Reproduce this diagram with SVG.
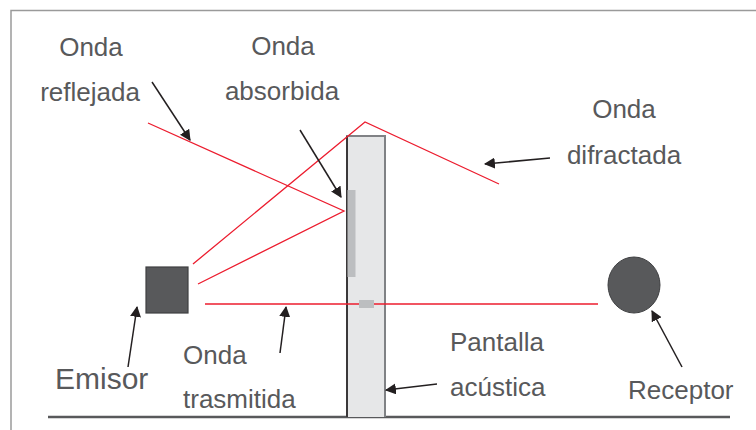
<svg xmlns="http://www.w3.org/2000/svg" width="756" height="430" viewBox="0 0 756 430">
<defs>
<style>
.t{font-family:"Liberation Sans",Arial,sans-serif;font-size:26px;fill:#58595b}
.ray{stroke:#ec1c2e;stroke-width:1.3;fill:none}
.arr{stroke:#231f20;stroke-width:1.5;fill:none;marker-end:url(#ah)}
</style>
<marker id="ah" viewBox="0 0 10 10" refX="9" refY="5" markerWidth="11" markerHeight="11" markerUnits="userSpaceOnUse" orient="auto">
<path d="M0,0 L10,5 L0,10 z" fill="#231f20"/>
</marker>
</defs>
<rect width="756" height="430" fill="#fff"/>
<path d="M11,430 V10.5 H756" fill="none" stroke="#9a9a9a" stroke-width="1.5"/>
<line x1="48" y1="417" x2="730" y2="417" stroke="#58595b" stroke-width="2.5"/>
<g id="pantalla">
<rect x="347" y="136" width="38" height="281" fill="#e6e7e8"/>
<path d="M347,417 V136 H385 V417" fill="none" stroke="#808285" stroke-width="2"/>
<line x1="347" y1="136" x2="347" y2="417" stroke="#231f20" stroke-width="1.5"/>
<rect x="347.5" y="190" width="8" height="87" fill="#bcbec0"/>
</g>
<g id="connectors">
<polyline class="ray" points="148,123 344,211 198,284"/>
<polyline class="ray" points="193,264 365,122 499,184"/>
<line class="ray" x1="205" y1="304" x2="598" y2="304"/>
<rect x="359" y="300" width="15" height="8" fill="#bcbec0"/>
<line class="arr" x1="152" y1="82" x2="190" y2="140"/>
<line class="arr" x1="300" y1="130" x2="341" y2="197"/>
<line class="arr" x1="550" y1="158" x2="485" y2="164"/>
<line class="arr" x1="128" y1="367" x2="137" y2="307"/>
<line class="arr" x1="280" y1="353" x2="286" y2="307"/>
<line class="arr" x1="437" y1="384" x2="386" y2="390"/>
<line class="arr" x1="682" y1="367" x2="652" y2="311"/>
</g>
<g id="emisor">
<rect x="146" y="267" width="42" height="46" fill="#58595b" stroke="#3f4042" stroke-width="1.2"/>
<text x="55" y="389" class="t" style="font-size:30px">Emisor</text>
</g>
<g id="receptor">
<ellipse cx="634" cy="285" rx="26" ry="28" fill="#58595b" stroke="#3f4042" stroke-width="1"/>
<text x="628" y="399" class="t">Receptor</text>
</g>
<g id="reflejada">
<text x="91" y="56" class="t" text-anchor="middle">Onda</text>
<text x="90" y="101" class="t" text-anchor="middle">reflejada</text>
</g>
<g id="absorbida">
<text x="283" y="55" class="t" text-anchor="middle">Onda</text>
<text x="282" y="100" class="t" text-anchor="middle">absorbida</text>
</g>
<g id="difractada">
<text x="624" y="118" class="t" text-anchor="middle">Onda</text>
<text x="624" y="164" class="t" text-anchor="middle">difractada</text>
</g>
<g id="trasmitida">
<text x="183" y="364" class="t">Onda</text>
<text x="183" y="408" class="t">trasmitida</text>
</g>
<g id="pantalla-label">
<text x="450" y="351" class="t">Pantalla</text>
<text x="450" y="396" class="t">acústica</text>
</g>
</svg>
